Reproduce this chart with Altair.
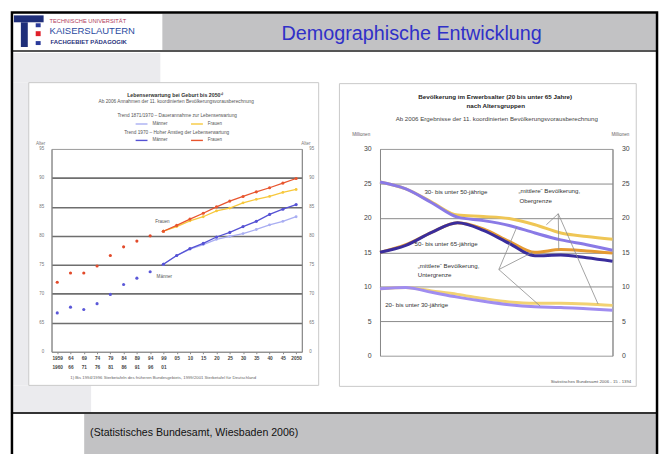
import altair as alt
import pandas as pd

# ---------------- left chart: Lebenserwartung ----------------
le_periods = ["1959/1960", "64/66", "69/71", "74/76", "79/81", "84/86", "89/91", "94/96", "99/01",
              "05", "10", "15", "20", "25", "30", "35", "40", "45", "2050"]
hist_frauen = [72.0, 73.6, 73.6, 74.8, 76.6, 78.1, 79.1, 80.0, 80.8]
hist_maenner = [66.7, 67.7, 67.3, 68.3, 69.9, 71.6, 72.7, 73.8, 75.1]
proj_periods = le_periods[8:]
frauen_hoch = [80.8, 81.8, 82.9, 83.9, 85.0, 86.0, 86.8, 87.6, 88.3, 89.1, 89.9]
frauen_basis = [80.8, 81.6, 82.6, 83.3, 84.3, 84.8, 85.7, 86.3, 86.8, 87.5, 88.0]
maenner_hoch = [75.1, 76.6, 77.8, 78.7, 79.8, 80.6, 81.6, 82.5, 83.7, 84.6, 85.4]
maenner_basis = [75.1, 76.6, 77.7, 78.5, 79.4, 79.9, 80.4, 81.1, 81.9, 82.5, 83.3]
le_ticks = [60, 65, 70, 75, 80, 85, 90, 95]

# ---------------- right chart: Erwerbsalter ----------------
jahre = [2005, 2010, 2015, 2020, 2025, 2030, 2035, 2040, 2045, 2050]
a30_50_ober = [25.2, 24.2, 22.3, 20.4, 20.2, 19.9, 19.0, 17.8, 17.3, 16.9]
a30_50_unter = [25.2, 24.2, 22.2, 20.1, 19.6, 18.9, 17.8, 16.8, 16.1, 15.3]
a50_65_ober = [15.0, 16.1, 17.9, 19.3, 18.4, 16.6, 15.0, 15.4, 15.2, 14.9]
a50_65_unter = [15.0, 16.0, 17.9, 19.3, 18.2, 16.3, 14.5, 14.6, 14.2, 13.7]
a20_30_ober = [9.7, 9.9, 9.4, 8.9, 8.3, 7.8, 7.6, 7.6, 7.5, 7.3]
a20_30_unter = [9.7, 9.9, 9.2, 8.5, 7.9, 7.4, 7.1, 7.0, 6.8, 6.6]
mio_ticks = [0, 5, 10, 15, 20, 25, 30]

anno_text = ["30- bis unter 50-jährige", "„mittlere“ Bevölkerung,", "Obergrenze",
             "50- bis unter 65-jährige", "„mittlere“ Bevölkerung,", "Untergrenze",
             "20- bis unter 30-jährige"]
anno_jahr = [2013.6, 2031.8, 2032.0, 2011.7, 2012.3, 2012.3, 2006.0]
anno_wert = [23.7, 23.95, 22.4, 16.2, 13.0, 11.7, 7.4]

lead_x = [2039.5, 2039.5, 2039.5, 2028.0, 2028.0, 2028.0]
lead_y = [20.6, 20.6, 20.6, 12.5, 12.5, 12.5]
lead_x2 = [2037.2, 2039.6, 2047.2, 2031.5, 2034.5, 2036.0]
lead_y2 = [19.0, 15.4, 7.5, 18.7, 15.0, 7.2]

FONT = "Liberation Sans"


def deco_text(txt, x, y, size, color="#333333", weight="normal", align="center", font=FONT):
    return alt.Chart(pd.DataFrame({"t": [txt]})).mark_text(
        align=align, baseline="middle", fontSize=size, color=color,
        fontWeight=weight, font=font
    ).encode(text="t:N", x=alt.value(x), y=alt.value(y))


def deco_rect(x, x2, y, y2, fill, stroke="transparent", sw=0, fo=1):
    return alt.Chart(pd.DataFrame({"a": [0]})).mark_rect(
        fill=fill, stroke=stroke, strokeWidth=sw, fillOpacity=fo
    ).encode(x=alt.value(x), x2=alt.value(x2), y=alt.value(y), y2=alt.value(y2))


# ---------------- left chart ----------------
W1, H1 = 253, 205
x_scale_le = alt.Scale(type="point", domain=le_periods, padding=0.43)
x_le = alt.X("periode:O", title=None, scale=x_scale_le,
             axis=alt.Axis(labelExpr="split(datum.label, '/')", labelAngle=0,
                           labelFontSize=4.8, labelFontWeight="bold", labelColor="#444444",
                           labelLineHeight=8.5, labelOverlap=False, labelPadding=2,
                           tickSize=2, tickColor="#888888", domainColor="#888888",
                           labelBaseline="top"))
y_scale_le = alt.Scale(domain=[60, 95], nice=False, zero=False)
grid_cond = {"condition": {"test": "datum.value >= 65 && datum.value <= 90", "value": "#6e6e6e"},
             "value": "transparent"}

hist = pd.DataFrame({
    "periode": le_periods[:9] * 2,
    "wert": hist_frauen + hist_maenner,
    "gruppe": ["Frauen"] * 9 + ["Männer"] * 9,
})
hist_layer = alt.Chart(hist).mark_point(filled=True, size=10, opacity=1).encode(
    x=x_le,
    y=alt.Y("wert:Q", title=None, scale=y_scale_le,
            axis=alt.Axis(values=le_ticks, labelExpr="datum.value == 60 ? '0' : datum.label",
                          labelFontSize=4.5, labelColor="#777777", tickSize=0, labelPadding=8,
                          grid=True, gridColor=grid_cond, gridWidth=1.6,
                          domainColor="#888888")),
    color=alt.Color("gruppe:N", legend=None,
                    scale=alt.Scale(domain=["Männer", "Frauen"], range=["#5b58d8", "#e24a2a"])),
)
right_axis_le = alt.Chart(hist).mark_point(opacity=0).encode(
    x=x_le,
    y=alt.Y("wert:Q", title=None, scale=y_scale_le,
            axis=alt.Axis(orient="right", values=le_ticks,
                          labelExpr="datum.value == 60 ? '0' : datum.label",
                          labelFontSize=4.5, labelColor="#777777", tickSize=0, labelPadding=7,
                          grid=False, domainColor="#888888")),
)

basis = pd.DataFrame({
    "periode": proj_periods * 2,
    "wert": maenner_basis + frauen_basis,
    "gruppe": ["Männer"] * 11 + ["Frauen"] * 11,
})
hoch = pd.DataFrame({
    "periode": proj_periods * 2,
    "wert": maenner_hoch + frauen_hoch,
    "gruppe": ["Männer"] * 11 + ["Frauen"] * 11,
})


def legend_at(ly):
    return alt.Legend(title=None, orient="none", legendX=84, legendY=ly, direction="horizontal",
                      symbolType="stroke", symbolSize=144, symbolStrokeWidth=1.4,
                      labelFontSize=4.5, labelColor="#555555", labelOffset=4,
                      columnPadding=20, padding=0)


y_noaxis = alt.Y("wert:Q", title=None, scale=y_scale_le, axis=None)
col_basis = alt.Scale(domain=["Männer", "Frauen"], range=["#a9aef2", "#f7c83c"])
col_hoch = alt.Scale(domain=["Männer", "Frauen"], range=["#5552d4", "#e8552e"])

basis_line = alt.Chart(basis).mark_line(strokeWidth=1.3).encode(
    x=x_le, y=y_noaxis, detail="gruppe:N",
    color=alt.Color("gruppe:N", scale=col_basis, legend=legend_at(-32.3)))
basis_pts = alt.Chart(basis).mark_point(filled=True, size=8, opacity=1).encode(
    x=x_le, y=y_noaxis, color=alt.Color("gruppe:N", scale=col_basis, legend=None))
hoch_line = alt.Chart(hoch).mark_line(strokeWidth=1.3).encode(
    x=x_le, y=y_noaxis, detail="gruppe:N",
    color=alt.Color("gruppe:N", scale=col_hoch, legend=legend_at(-15.7)))
hoch_pts = alt.Chart(hoch).mark_point(filled=True, size=10, opacity=1).encode(
    x=x_le, y=y_noaxis, color=alt.Color("gruppe:N", scale=col_hoch, legend=None))

# slide decoration (header / footer / light side band), relative to the left plot origin
slide = [
    deco_rect(-39, 110, -97, -67, "#ebebee"),
    deco_rect(-39, -23, -67, 239, "#ebebee"),
    deco_rect(-39, 40, 239, 266, "#ebebee"),
    deco_rect(-41, 613, -137, -100, "#c2c2c4"),
    deco_rect(-41, 112, -137, -100, "#ffffff"),
    deco_rect(-41, 613, -100, -98, "#555555"),
    deco_rect(-38, -8, -135, -128, "#1f2f7a"),
    deco_rect(-31, -24, -128, -103, "#1f2f7a"),
    deco_rect(-16, -11, -127, -123, "#2a3a9a"),
    deco_rect(-16, -11, -119, -114, "#e0202a"),
    deco_rect(-16, -11, -109, -105, "#2a3a9a"),
    deco_text("TECHNISCHE UNIVERSITÄT", -2, -129.5, 5.8, "#b03a5a", align="left"),
    deco_text("KAISERSLAUTERN", -2, -119, 9.6, "#2a4aa0", align="left"),
    deco_text("FACHGEBIET PÄDAGOGIK", -1, -108, 6, "#1f2f7a", weight="bold", align="left"),
    deco_text("Demographische Entwicklung", 364, -116, 20, "#3030c8"),
    deco_rect(-41, 613, 266, 268, "#333333"),
    deco_rect(33, 613, 268, 313, "#c2c2c4"),
    deco_text("(Statistisches Bundesamt, Wiesbaden 2006)", 39, 287, 10.7, "#111111", align="left"),
    deco_rect(-40, 612, -138, 313, "#ffffff", stroke="#000000", sw=2.5, fo=0),
    deco_rect(-23, 270, -67, 239, "#ffffff", stroke="#c8c8c8", sw=1, fo=0),
]

left_texts = [
    deco_text("Lebenserwartung bei Geburt bis 2050¹⁾", 125, -54.3, 5.3, weight="bold"),
    deco_text("Ab 2006 Annahmen der 11. koordinierten Bevölkerungsvorausberechnung", 126, -47.7, 4.8,
              "#555555"),
    deco_text("Trend 1871/1970 – Dauerannahme zur Lebenserwartung", 127, -33.7, 4.8, "#555555"),
    deco_text("Trend 1970 – Hoher Anstieg der Lebenserwartung", 126.5, -16.3, 4.8, "#555555"),
    deco_text("Alter", -11, -5.3, 4.5, "#777777"),
    deco_text("Alter", 257, -5.3, 4.5, "#777777"),
    deco_text("Frauen", 112, 73.7, 4.6, "#555555"),
    deco_text("Männer", 114, 129, 4.6, "#555555"),
    deco_text("1) Bis 1994/1996 Sterbetafeln des früheren Bundesgebiets, 1999/2001 Sterbetafel für Deutschland",
              19, 232, 4.3, "#666666", align="left"),
]

left = alt.layer(
    *slide, *left_texts,
    hist_layer, right_axis_le, basis_line, basis_pts, hoch_line, hoch_pts,
).resolve_scale(y="independent", color="independent").properties(width=W1, height=H1)

# ---------------- right chart ----------------
W2, H2 = 235, 209
x_r = alt.X("jahr:Q", title=None, scale=alt.Scale(domain=[2005, 2050], nice=False, zero=False),
            axis=alt.Axis(values=list(range(2005, 2051)), format="d",
                          labelExpr="datum.value % 5 === 0 ? datum.label : ''",
                          labelOverlap=False, labelFlush=False, labelFontSize=7.5,
                          labelFontWeight="bold", labelColor="#333333", tickSize=2.5,
                          tickColor="#666666", domainColor="#666666", labelPadding=0, grid=False))
y_scale_r = alt.Scale(domain=[0, 30], nice=False, zero=True)
grid_r = {"condition": {"test": "datum.value > 0 && datum.value < 30", "value": "#8a8a8a"},
          "value": "transparent"}

ober = pd.DataFrame({
    "jahr": jahre * 3,
    "wert": a30_50_ober + a50_65_ober + a20_30_ober,
    "reihe": ["30-50 ober"] * 10 + ["50-65 ober"] * 10 + ["20-30 ober"] * 10,
})
unter = pd.DataFrame({
    "jahr": jahre * 3,
    "wert": a30_50_unter + a50_65_unter + a20_30_unter,
    "reihe": ["30-50 unter"] * 10 + ["50-65 unter"] * 10 + ["20-30 unter"] * 10,
})

ober_layer = alt.Chart(ober).mark_line(strokeWidth=3, interpolate="monotone").encode(
    x=x_r,
    y=alt.Y("wert:Q", title=None, scale=y_scale_r,
            axis=alt.Axis(values=mio_ticks, labelFontSize=7, labelColor="#444444", tickSize=0,
                          labelPadding=9, grid=True, gridColor=grid_r, gridWidth=1,
                          domainColor="#888888")),
    color=alt.Color("reihe:N", legend=None,
                    scale=alt.Scale(domain=["30-50 ober", "50-65 ober", "20-30 ober"],
                                    range=["#efc655", "#e59a32", "#f2d273"])),
)
unter_layer = alt.Chart(unter).mark_line(strokeWidth=3, interpolate="monotone").encode(
    x=x_r,
    y=alt.Y("wert:Q", title=None, scale=y_scale_r, axis=None),
    color=alt.Color("reihe:N", legend=None,
                    scale=alt.Scale(domain=["30-50 unter", "50-65 unter", "20-30 unter"],
                                    range=["#8a7ae6", "#3a2d9c", "#a08df0"])),
)
right_axis_r = alt.Chart(ober).mark_point(opacity=0).encode(
    x=x_r,
    y=alt.Y("wert:Q", title=None, scale=y_scale_r,
            axis=alt.Axis(orient="right", values=mio_ticks, labelFontSize=7, labelColor="#444444",
                          tickSize=0, labelPadding=9, grid=False, domainColor="#888888")),
)

leads = pd.DataFrame({"x": lead_x, "y": lead_y, "x2": lead_x2, "y2": lead_y2})
lead_layer = alt.Chart(leads).mark_rule(color="#8c8c8c", strokeWidth=0.8).encode(
    x=alt.X("x:Q", scale=alt.Scale(domain=[2005, 2050], nice=False, zero=False), axis=None),
    x2="x2:Q",
    y=alt.Y("y:Q", scale=y_scale_r, axis=None),
    y2="y2:Q",
)
annos = pd.DataFrame({"t": anno_text, "jahr": anno_jahr, "wert": anno_wert})
anno_layer = alt.Chart(annos).mark_text(align="left", baseline="middle", fontSize=6.2,
                                        color="#333333").encode(
    x=alt.X("jahr:Q", scale=alt.Scale(domain=[2005, 2050], nice=False, zero=False), axis=None),
    y=alt.Y("wert:Q", scale=y_scale_r, axis=None),
    text="t:N",
)

right_texts = [
    deco_rect(-41, 259, -66, 240, "#ffffff", stroke="#c8c8c8", sw=1, fo=0),
    deco_text("Bevölkerung im Erwerbsalter (20 bis unter 65 Jahre)", 116.5, -52, 6.3, "#222222",
              weight="bold"),
    deco_text("nach Altersgruppen", 117, -43, 6.3, "#222222", weight="bold"),
    deco_text("Ab 2006 Ergebnisse der 11. koordinierten Bevölkerungsvorausberechnung", 118, -30.3, 6.2,
              "#444444"),
    deco_text("Millionen", -19, -13.7, 4.6, "#666666"),
    deco_text("Millionen", 243, -13.7, 4.6, "#666666"),
    deco_text("Statistisches Bundesamt 2006 - 15 - 1394", 254, 236, 4.4, "#555555", align="right"),
]

right = alt.layer(
    *right_texts, ober_layer, unter_layer, right_axis_r, lead_layer, anno_layer
).resolve_scale(y="independent", color="independent").properties(width=W2, height=H2)

chart = alt.hconcat(left, right, spacing=79, bounds="flush").properties(
    padding={"left": 2, "top": 0, "right": 0, "bottom": 0},
    background="#ffffff",
).configure(font=FONT).configure_view(stroke="#9a9a9a", strokeWidth=1)

chart.save("out.html", embed_options={"renderer": "svg", "actions": False})
